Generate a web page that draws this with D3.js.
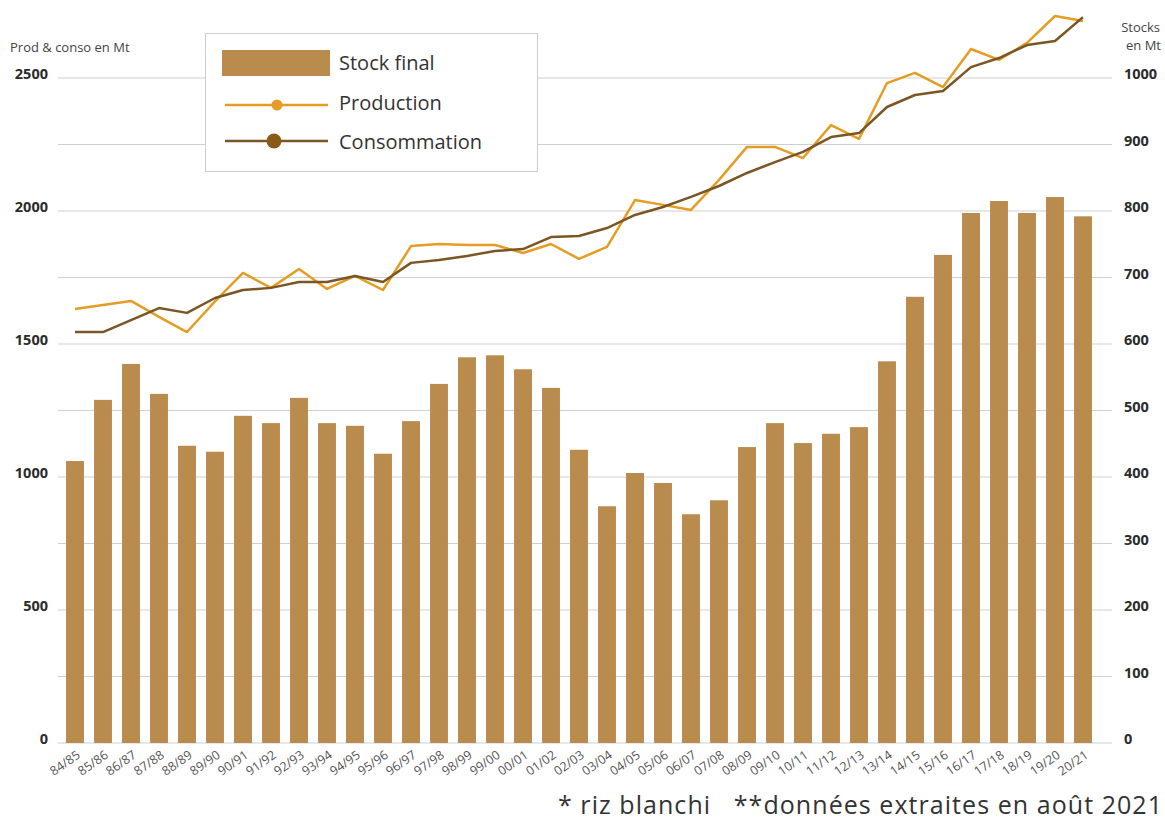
<!DOCTYPE html>
<html>
<head>
<meta charset="utf-8">
<script src="https://cdn.jsdelivr.net/npm/d3@7"></script>
<style>
  body { margin: 0; background: #fff; font-family: "Open Sans", "Noto Sans", sans-serif; }
  .axisText { fill: #444; font-size: 13px; }
  .tickLeft, .tickRight { fill: #2b2b2b; font-size: 14.5px; font-weight: bold; }
  .tickX { fill: #555; font-size: 12.5px; }
</style>
</head>
<body>
<div class="chart"></div>
<script>
var campagnes = ["84/85","85/86","86/87","87/88","88/89","89/90","90/91","91/92","92/93","93/94",
  "94/95","95/96","96/97","97/98","98/99","99/00","00/01","01/02","02/03","03/04",
  "04/05","05/06","06/07","07/08","08/09","09/10","10/11","11/12","12/13","13/14",
  "14/15","15/16","16/17","17/18","18/19","19/20","20/21"];

// stocks finaux (axe de droite)
var stockFinal = [424,516,570,525,447,438,492,481,519,481,
  477,435,484,540,580,583,562,534,441,356,
  406,391,344,365,445,481,451,465,475,574,
  671,734,797,815,797,821,792];

// production et consommation (axe de gauche)
var production = [1632,1647,1662,1602,1545,1660,1767,1711,1782,1707,
  1756,1703,1868,1876,1872,1872,1842,1876,1820,1865,
  2041,2023,2004,2117,2241,2241,2199,2323,2271,2481,
  2519,2466,2609,2568,2632,2733,2714];

var consommation = [1545,1545,1590,1635,1617,1673,1703,1711,1733,1733,
  1756,1733,1805,1816,1831,1850,1857,1902,1906,1936,
  1985,2015,2053,2094,2143,2184,2222,2278,2293,2391,
  2436,2451,2541,2575,2624,2639,2729];

var leftTicks = [0, 500, 1000, 1500, 2000, 2500];
var gridTicks = [0, 250, 500, 750, 1000, 1250, 1500, 1750, 2000, 2250, 2500];
var rightTicks = [0, 100, 200, 300, 400, 500, 600, 700, 800, 900, 1000];

var svgWidth = 1165;
var svgHeight = 823;

var colorBar = "#b98b4c";
var colorProd = "#e49d22";
var colorConso = "#7b5624";

var svg = d3.select(".chart")
  .append("svg")
  .attr("width", svgWidth)
  .attr("height", svgHeight);

var xBand = d3.scaleBand()
  .domain(campagnes)
  .range([61, 1097])
  .paddingInner(0.36)
  .paddingOuter(0.18);

var yLeft = d3.scaleLinear().domain([0, 2500]).range([743, 78]);
var yRight = d3.scaleLinear().domain([0, 1000]).range([743, 78]);

// gridlines
svg.append("g")
  .selectAll("line")
  .data(gridTicks)
  .enter().append("line")
    .attr("x1", 58)
    .attr("x2", 1112)
    .attr("y1", function(d) { return yLeft(d); })
    .attr("y2", function(d) { return yLeft(d); })
    .attr("stroke", function(d) { return d === 0 ? "#c9d1dc" : "#cfcfcf"; })
    .attr("stroke-width", 1);

// bars
svg.append("g")
  .selectAll("rect")
  .data(stockFinal)
  .enter().append("rect")
    .attr("x", function(d, i) { return xBand(campagnes[i]); })
    .attr("y", function(d) { return yRight(d); })
    .attr("width", xBand.bandwidth())
    .attr("height", function(d) { return yRight(0) - yRight(d); })
    .attr("fill", colorBar);

var xCenter = function(d, i) { return xBand(campagnes[i]) + xBand.bandwidth() / 2; };

var lineProd = d3.line()
  .x(xCenter)
  .y(function(d) { return yLeft(d); });

svg.append("path")
  .datum(production)
  .attr("d", lineProd)
  .attr("fill", "none")
  .attr("stroke", colorProd)
  .attr("stroke-width", 2.5)
  .attr("stroke-linejoin", "round");

svg.append("path")
  .datum(consommation)
  .attr("d", lineProd)
  .attr("fill", "none")
  .attr("stroke", colorConso)
  .attr("stroke-width", 2.5)
  .attr("stroke-linejoin", "round");

// left axis labels
svg.append("g")
  .selectAll("text")
  .data(leftTicks)
  .enter().append("text")
    .attr("class", "tickLeft")
    .attr("x", 48)
    .attr("y", function(d) { return yLeft(d) - 4; })
    .attr("dy", "0.35em")
    .attr("text-anchor", "end")
    .text(function(d) { return d; });

// right axis labels
svg.append("g")
  .selectAll("text")
  .data(rightTicks)
  .enter().append("text")
    .attr("class", "tickRight")
    .attr("x", 1124)
    .attr("y", function(d) { return yRight(d) - 4; })
    .attr("dy", "0.35em")
    .text(function(d) { return d; });

// x labels
svg.append("g")
  .selectAll("text")
  .data(campagnes)
  .enter().append("text")
    .attr("class", "tickX")
    .attr("text-anchor", "end")
    .attr("transform", function(d, i) {
      return "translate(" + (xCenter(d, i) + 6) + "," + 757 + ") rotate(-35)";
    })
    .text(function(d) { return d; });

// axis titles
svg.append("text")
  .attr("class", "axisText")
  .attr("x", 10)
  .attr("y", 52)
  .text("Prod & conso en Mt");

svg.append("text")
  .attr("class", "axisText")
  .attr("x", 1160)
  .attr("y", 32)
  .attr("text-anchor", "end")
  .text("Stocks");

svg.append("text")
  .attr("class", "axisText")
  .attr("x", 1161)
  .attr("y", 50)
  .attr("text-anchor", "end")
  .text("en Mt");

// legend
var legend = svg.append("g");

legend.append("rect")
  .attr("x", 205.5)
  .attr("y", 33.5)
  .attr("width", 332)
  .attr("height", 138)
  .attr("fill", "#fff")
  .attr("stroke", "#cccccc");

legend.append("rect")
  .attr("x", 222)
  .attr("y", 50)
  .attr("width", 108)
  .attr("height", 26)
  .attr("fill", colorBar);

legend.append("line")
  .attr("x1", 225).attr("x2", 328)
  .attr("y1", 105).attr("y2", 105)
  .attr("stroke", colorProd).attr("stroke-width", 2.5);

legend.append("circle")
  .attr("cx", 277).attr("cy", 105).attr("r", 5.5)
  .attr("fill", colorProd);

legend.append("line")
  .attr("x1", 225).attr("x2", 328)
  .attr("y1", 141).attr("y2", 141)
  .attr("stroke", colorConso).attr("stroke-width", 2.5);

legend.append("circle")
  .attr("cx", 274).attr("cy", 141).attr("r", 7.5)
  .attr("fill", "#8a5a17");

var legendLabels = ["Stock final", "Production", "Consommation"];
var legendY = [63, 103, 142];

legend.selectAll("text.leg")
  .data(legendLabels)
  .enter().append("text")
    .attr("class", "leg")
    .attr("x", 339)
    .attr("y", function(d, i) { return legendY[i]; })
    .attr("dy", "0.35em")
    .attr("fill", "#333")
    .attr("font-size", "20px")
    .text(function(d) { return d; });

// note
svg.append("text")
  .attr("x", 558)
  .attr("y", 814)
  .attr("fill", "#333")
  .attr("font-size", "25px")
  .attr("textLength", 604)
  .attr("lengthAdjust", "spacing")
  .style("white-space", "pre")
  .text("* riz blanchi   **données extraites en août 2021");
</script>
</body>
</html>
